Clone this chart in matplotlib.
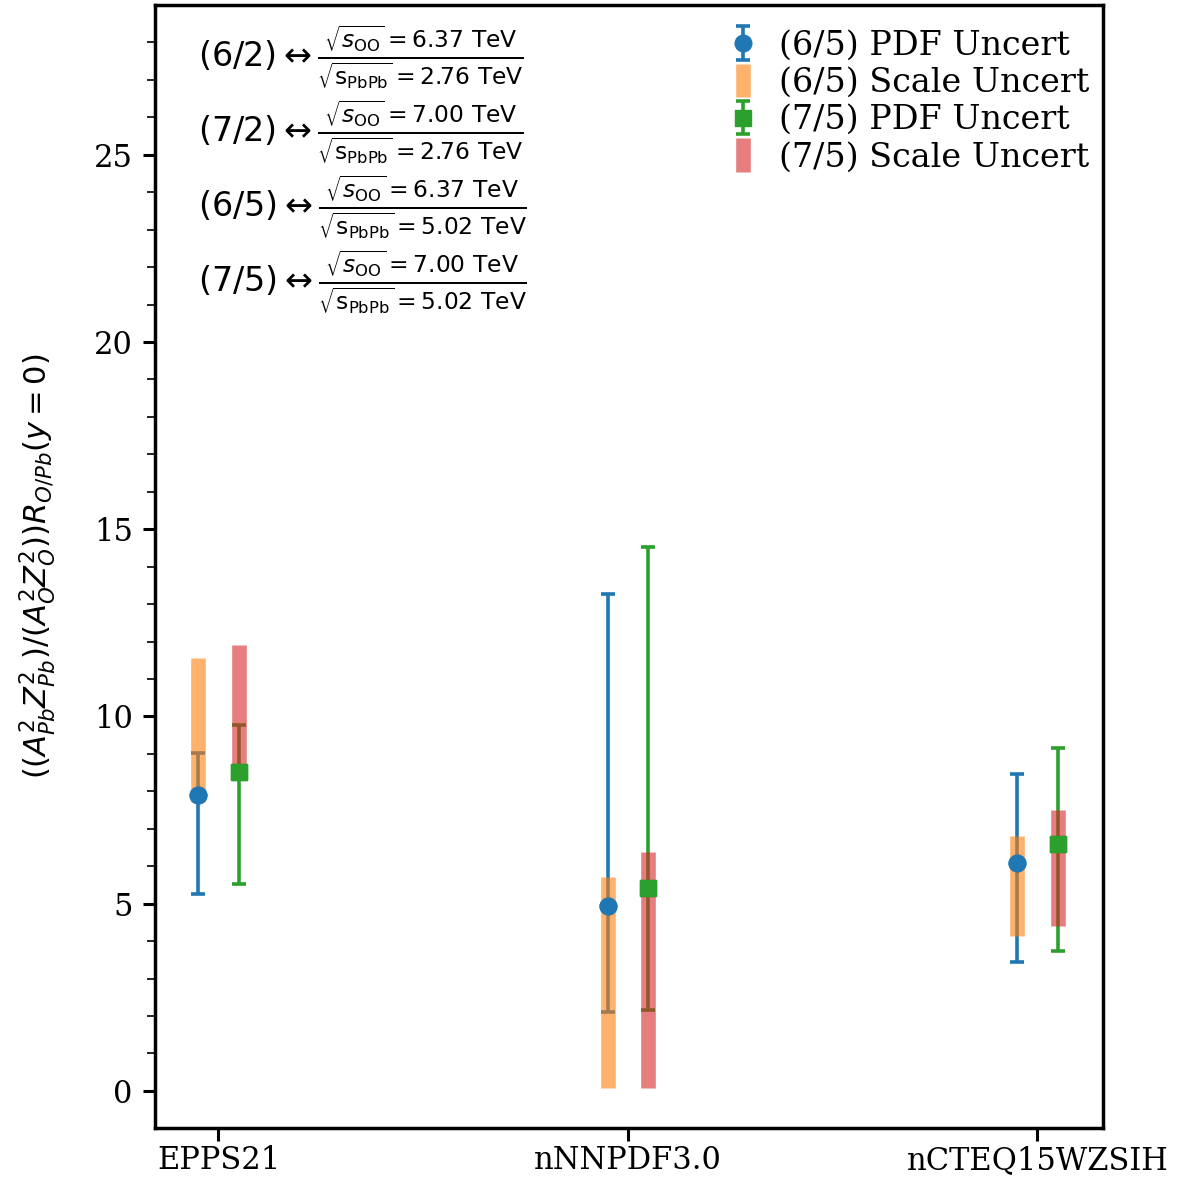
import numpy as np
import matplotlib
matplotlib.use("Agg")
import matplotlib.pyplot as plt

plt.rcParams['font.family'] = 'serif'
plt.rcParams['font.serif'] = ['DejaVu Serif']
plt.rcParams['mathtext.fontset'] = 'dejavusans'

models = ["EPPS21", "nNNPDF3.0", "nCTEQ15WZSIH"]

# (6/5) ratio
c65 = [7.90, 4.94, 6.10]
pdf65_lo = [5.26, 2.12, 3.44]
pdf65_hi = [9.03, 13.27, 8.47]
scl65_lo = [7.72, 0.08, 4.14]
scl65_hi = [11.57, 5.72, 6.81]

# (7/5) ratio
c75 = [8.52, 5.42, 6.59]
pdf75_lo = [5.53, 2.17, 3.74]
pdf75_hi = [9.78, 14.52, 9.16]
scl75_lo = [8.45, 0.08, 4.41]
scl75_hi = [11.91, 6.38, 7.51]

ann_labels = ["(6/2)", "(7/2)", "(6/5)", "(7/5)"]
ann_soo = ["6.37", "7.00", "6.37", "7.00"]
ann_spbpb = ["2.76", "2.76", "5.02", "5.02"]

fig = plt.figure(figsize=(11.89, 11.80), dpi=100)
ax = fig.add_axes([155/1189, 1-1128/1180, (1103-155)/1189, (1128-5)/1180])

x = np.arange(len(models))
off = 0.05

def mid_err(lo, hi):
    lo = np.array(lo); hi = np.array(hi)
    mid = (lo + hi) / 2
    return mid, (hi - lo) / 2

c65a = np.array(c65); c75a = np.array(c75)

ax.errorbar(x - off, c65a, yerr=[c65a - np.array(pdf65_lo), np.array(pdf65_hi) - c65a],
            fmt='o', color='tab:blue', ms=12, elinewidth=2.6, capsize=5, capthick=2.6,
            zorder=1, label='(6/5) PDF Uncert')
m, e = mid_err(scl65_lo, scl65_hi)
ax.errorbar(x - off, m, yerr=e, fmt='none', ecolor='tab:orange', elinewidth=10.5,
            alpha=0.6, zorder=2, label='(6/5) Scale Uncert')
ax.errorbar(x + off, c75a, yerr=[c75a - np.array(pdf75_lo), np.array(pdf75_hi) - c75a],
            fmt='s', color='tab:green', ms=12, elinewidth=2.6, capsize=5, capthick=2.6,
            zorder=1, label='(7/5) PDF Uncert')
m, e = mid_err(scl75_lo, scl75_hi)
ax.errorbar(x + off, m, yerr=e, fmt='none', ecolor='tab:red', elinewidth=10.5,
            alpha=0.6, zorder=2, label='(7/5) Scale Uncert')

ax.plot(x - off, c65a, 'o', color='tab:blue', ms=12, zorder=3)
ax.plot(x + off, c75a, 's', color='tab:green', ms=12, zorder=3)

ax.set_xlim(-0.155, 2.16)
ax.set_ylim(-0.99, 29.0)
ax.set_xticks(x)
ax.set_xticklabels(models)
ax.set_yticks([0, 5, 10, 15, 20, 25])
ax.set_yticks(np.arange(0, 29, 1), minor=True)
ax.tick_params(axis='both', which='major', labelsize=22, length=9, width=2.2)
ax.tick_params(axis='y', which='major', pad=7)
ax.tick_params(axis='x', which='major', pad=3)
ax.tick_params(axis='y', which='minor', length=6, width=1.2)
for s in ax.spines.values():
    s.set_linewidth(2.5)

ax.set_ylabel(r'$((A_{Pb}^2Z_{Pb}^2)/(A_O^2Z_O^2))R_{O/Pb}(y=0)$', fontsize=22, labelpad=26)

ys = [27.6, 25.6, 23.6, 21.6]
for lab, so, sp, yy in zip(ann_labels, ann_soo, ann_spbpb, ys):
    txt = (r'$' + lab + r'\leftrightarrow\frac{\sqrt{s_{\rm OO}}=' + so + r'\ \rm TeV}'
           r'{\sqrt{\rm s_{PbPb}}=' + sp + r'\ \rm TeV}$')
    ax.text(-0.05, yy, txt, fontsize=24, va='center', ha='left')

ax.legend(loc='upper right', bbox_to_anchor=(1.0, 0.99), fontsize=24, frameon=False,
          handletextpad=0.7, labelspacing=0.16, borderaxespad=0.0, handlelength=0.8)

fig.savefig('out.png', dpi=100)
